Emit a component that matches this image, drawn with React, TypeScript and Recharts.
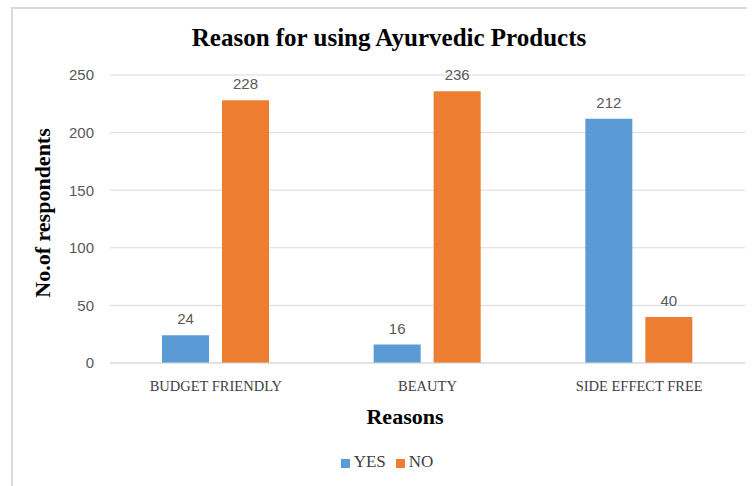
import { BarChart, Bar, XAxis, YAxis, CartesianGrid, Legend, LabelList } from 'recharts';

const reasons = ['BUDGET FRIENDLY', 'BEAUTY', 'SIDE EFFECT FREE'];
const yesValues = [24, 16, 212];
const noValues = [228, 236, 40];
const yTicks = [0, 50, 100, 150, 200, 250];
const seriesOrder = ['YES', 'NO'];

const data = reasons.map((reason, i) => ({
  reason,
  YES: yesValues[i],
  NO: noValues[i],
}));

const serif = '"Liberation Serif", "Times New Roman", serif';
const sans = '"Liberation Sans", Arial, sans-serif';

function YTitle() {
  return (
    <text
      x={0}
      y={0}
      transform="translate(42, 213) rotate(-90)"
      textAnchor="middle"
      dominantBaseline="central"
      fontFamily={serif}
      fontWeight="bold"
      fontSize={22}
      fill="#000"
    >
      No.of respondents
    </text>
  );
}

function XTitle() {
  return (
    <text
      x={405}
      y={416}
      textAnchor="middle"
      dominantBaseline="central"
      fontFamily={serif}
      fontWeight="bold"
      fontSize={22}
      fill="#000"
    >
      Reasons
    </text>
  );
}

export default function App() {
  return (
    <div style={{ position: 'absolute', left: 0, top: 0, width: 754, height: 486, background: '#fff' }}>
      <div
        style={{
          position: 'absolute',
          left: 11,
          top: 7,
          width: 734,
          height: 479,
          borderLeft: '2px solid #d9d9d9',
          borderTop: '2px solid #d9d9d9',
        }}
      />
      <div
        style={{
          position: 'absolute',
          left: 0,
          width: 778,
          top: 24,
          textAlign: 'center',
          fontFamily: serif,
          fontWeight: 'bold',
          fontSize: 25,
          color: '#000',
        }}
      >
        Reason for using Ayurvedic Products
      </div>
      <BarChart
        width={754}
        height={486}
        data={data}
        margin={{ top: 75, right: 9, bottom: 63, left: 12 }}
        barCategoryGap={52}
        barGap={13}
        style={{ position: 'absolute', left: 0, top: 0 }}
      >
        <CartesianGrid vertical={false} stroke="#d9d9d9" />
        <XAxis
          dataKey="reason"
          height={60}
          tickSize={0}
          tickMargin={18}
          axisLine={{ stroke: '#d9d9d9' }}
          tick={{ fontFamily: serif, fontSize: 14.5, fill: '#404040' }}
          label={<XTitle />}
        />
        <YAxis
          width={98}
          domain={[0, 250]}
          ticks={yTicks}
          tickSize={0}
          tickMargin={16}
          axisLine={false}
          tick={{ fontFamily: sans, fontSize: 15, fill: '#595959' }}
          label={<YTitle />}
        />
        <Legend
          layout="horizontal"
          verticalAlign="middle"
          align="center"
          iconType="square"
          iconSize={9}
          itemSorter={(item) => seriesOrder.indexOf(String(item.dataKey))}
          wrapperStyle={{ top: 452, left: 0, width: 784, fontFamily: serif, fontSize: 17 }}
          formatter={(value) => <span style={{ color: '#404040' }}>{value}</span>}
        />
        <Bar dataKey="YES" fill="#5b9bd5" isAnimationActive={false}>
          <LabelList dataKey="YES" position="top" offset={11} fill="#595959" fontFamily={sans} fontSize={15} />
        </Bar>
        <Bar dataKey="NO" fill="#ed7d31" isAnimationActive={false}>
          <LabelList dataKey="NO" position="top" offset={11} fill="#595959" fontFamily={sans} fontSize={15} />
        </Bar>
      </BarChart>
    </div>
  );
}
